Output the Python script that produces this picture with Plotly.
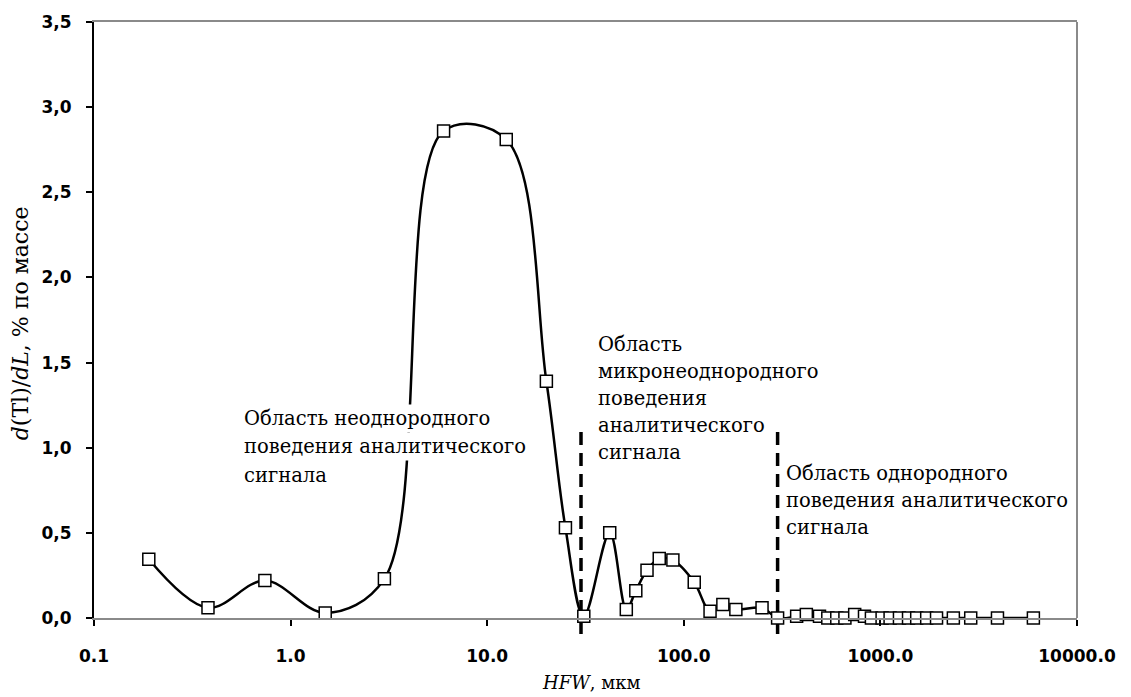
import plotly.graph_objects as go

# HFW (μm) and d(Tl)/dL (% by mass)
hfw_um = [0.19, 0.38, 0.74, 1.5, 3.0, 6.0, 12.5, 20, 25, 31,
          42, 51, 57, 65, 75, 88, 113, 136, 158, 184,
          250, 300, 375, 420, 490, 540, 600, 660, 740, 830,
          900, 1020, 1120, 1250, 1390, 1530, 1720, 1930, 2350, 2880,
          3940, 6000]
dtl_dl = [0.345, 0.06, 0.22, 0.03, 0.23, 2.86, 2.81, 1.39, 0.53, 0.01,
          0.50, 0.05, 0.16, 0.28, 0.35, 0.34, 0.21, 0.04, 0.08, 0.05,
          0.06, 0.00, 0.01, 0.02, 0.01, 0.00, 0.00, 0.00, 0.02, 0.01,
          0.00, 0.00, 0.00, 0.00, 0.00, 0.00, 0.00, 0.00, 0.00, 0.00,
          0.00, 0.00]

# boundaries between behaviour regions, μm
region_bounds_um = [30, 300]

x_tick_vals = [0.1, 1, 10, 100, 1000, 10000]
x_tick_text = ["0.1", "1.0", "10.0", "100.0", "1000.0", "10000.0"]
y_tick_vals = [0, 0.5, 1.0, 1.5, 2.0, 2.5, 3.0, 3.5]
y_tick_text = ["0,0", "0,5", "1,0", "1,5", "2,0", "2,5", "3,0", "3,5"]

region_labels = [
    ["Область неоднородного", "поведения аналитического", "сигнала"],
    ["Область", "микронеоднородного", "поведения", "аналитического", "сигнала"],
    ["Область однородного", "поведения аналитического", "сигнала"],
]

SERIF = "DejaVu Serif"
TICKFONT = dict(family="DejaVu Sans", size=17, color="black", weight="bold")
GRAY = "#8a8a8a"

# plot area in pixels, used to place the text blocks
PLOT_L, PLOT_W, PLOT_B, PLOT_H = 94, 983, 618, 599


def px_to_paper(px, py):
    return (px - PLOT_L) / PLOT_W, (PLOT_B - py) / PLOT_H


fig = go.Figure()
fig.add_trace(go.Scatter(
    x=hfw_um, y=dtl_dl, mode="lines+markers",
    line=dict(color="black", width=2.5, shape="spline", smoothing=1),
    marker=dict(symbol="square", size=12, color="white",
                line=dict(color="black", width=1.5)),
    cliponaxis=False, hoverinfo="skip", showlegend=False,
))

for b in region_bounds_um:
    fig.add_shape(type="line", xref="x", yref="paper", x0=b, x1=b,
                  y0=-0.027, y1=0.317, layer="below",
                  line=dict(color="black", width=3.5, dash="13px,8px"))

# right frame edge
fig.add_shape(type="line", xref="paper", yref="paper", x0=1, x1=1, y0=0, y1=1,
              line=dict(color=GRAY, width=2))

text_font = dict(family=SERIF, size=19.5, color="black")
# (left edge px, centre of first line px, line step px)
block_pos = [(243, 417, 29), (597, 343, 27.2), (785, 473, 27)]
for k, (lines, (lx, ly, step)) in enumerate(zip(region_labels, block_pos)):
    for i, line in enumerate(lines):
        pad = 7 if (k == 0 and i == len(lines) - 1) else 2
        xp, yp = px_to_paper(lx - pad, ly + i * step)
        fig.add_annotation(text=line, xref="paper", yref="paper", x=xp, y=yp,
                           xanchor="left", yanchor="middle", align="left",
                           showarrow=False, bgcolor="white", borderpad=pad,
                           font=text_font)

# axis titles
fig.add_annotation(text="<i>HFW</i>, мкм", xref="paper", yref="paper",
                   x=0.506, y=-0.108, xanchor="center", yanchor="middle",
                   showarrow=False, font=dict(family=SERIF, size=18, color="black"))
fig.add_annotation(text="<i>d</i>(Tl)/<i>dL</i>, % по массе", xref="paper", yref="paper",
                   x=-0.074, y=0.495, xanchor="center", yanchor="middle", textangle=-90,
                   showarrow=False, font=dict(family=SERIF, size=22, color="black"))

fig.update_xaxes(type="log", range=[-1, 4], tickvals=x_tick_vals, ticktext=x_tick_text,
                 showgrid=False, zeroline=False, showline=True, linecolor=GRAY,
                 linewidth=2, mirror=True, ticks="outside", ticklen=6, tickwidth=2,
                 tickcolor="black", tickfont=TICKFONT, ticklabelstandoff=16)
fig.update_yaxes(range=[0, 3.5], tickvals=y_tick_vals, ticktext=y_tick_text,
                 showgrid=False, zeroline=False, showline=True, linecolor="black",
                 linewidth=2, ticks="outside", ticklen=6, tickwidth=2,
                 tickcolor="black", tickfont=TICKFONT, ticklabelstandoff=11)

fig.update_layout(width=1131, height=697, margin=dict(l=94, r=54, t=19, b=79),
                  paper_bgcolor="white", plot_bgcolor="white", showlegend=False)

fig.write_html("out.html")
